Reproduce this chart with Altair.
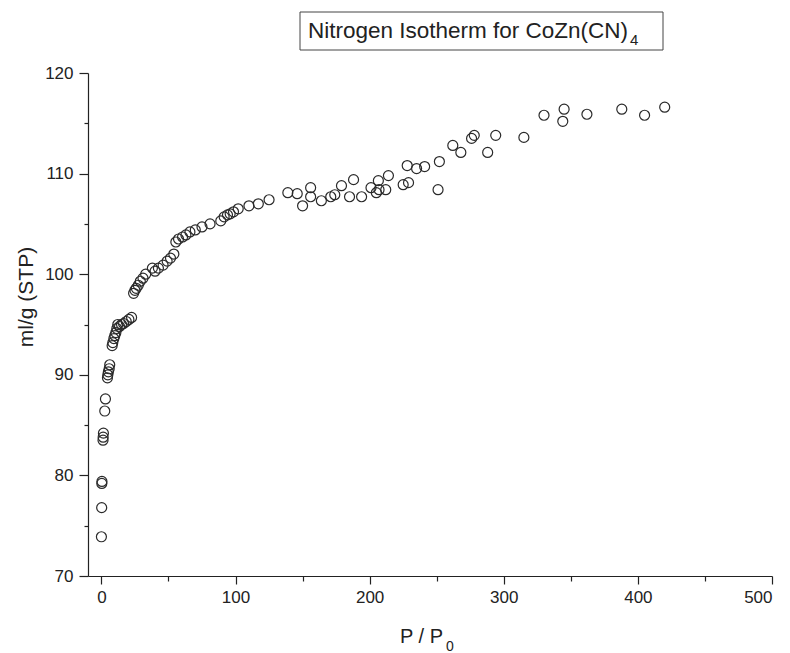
import altair as alt
import pandas as pd

# P / P0 values
pressure = [
    0.0, 0.2, 0.3, 0.4, 1.2, 1.3, 1.5, 2.5, 3.0,
    4.5, 4.8, 5.2, 5.8, 6.2,
    8.0, 8.5, 9.3, 10.0, 10.8, 11.5, 12.2, 13.5, 15.0, 16.5, 18.5, 20.5, 22.5,
    24.0, 25.0, 26.0, 27.5, 29.0, 31.0, 33.0, 38.0, 40.0, 42.5, 46.0, 49.0, 51.5, 54.0,
    55.5, 57.5, 60.5, 63.0, 66.0, 70.0, 75.0, 81.0, 89.0, 91.5, 94.0, 96.0, 98.5,
    102.0, 110.0, 117.0, 125.0,
    139.0, 146.0, 150.0, 156.0, 156.0, 164.0, 171.0, 174.0, 179.0, 185.0, 188.0,
    194.0, 201.0, 205.0, 206.5, 207.0, 212.0, 214.0, 225.0, 229.0, 228.0, 235.0,
    241.0, 251.0, 252.0, 262.0, 268.0, 276.0, 278.0, 288.0, 294.0, 315.0,
    330.0, 344.0, 345.0, 362.0, 388.0, 405.0, 420.0,
]
# adsorbed volume, ml/g (STP)
volume = [
    73.9, 76.8, 79.2, 79.4, 83.5, 83.8, 84.2, 86.4, 87.6,
    89.7, 90.0, 90.3, 90.6, 91.0,
    92.9, 93.2, 93.6, 93.9, 94.2, 94.6, 95.0, 94.8, 95.0, 95.1, 95.3, 95.5, 95.7,
    98.1, 98.4, 98.6, 98.9, 99.3, 99.6, 100.0, 100.6, 100.3, 100.6, 100.9, 101.3, 101.6, 102.0,
    103.2, 103.5, 103.7, 103.9, 104.2, 104.4, 104.7, 105.0, 105.3, 105.7, 105.9, 106.0, 106.2,
    106.5, 106.8, 107.0, 107.4,
    108.1, 108.0, 106.8, 108.6, 107.7, 107.3, 107.7, 107.9, 108.8, 107.7, 109.4,
    107.7, 108.6, 108.1, 109.3, 108.4, 108.4, 109.8, 108.9, 109.1, 110.8, 110.5,
    110.7, 108.4, 111.2, 112.8, 112.1, 113.5, 113.8, 112.1, 113.8, 113.6,
    115.8, 115.2, 116.4, 115.9, 116.4, 115.8, 116.6,
]

x_ticks = [0, 50, 100, 150, 200, 250, 300, 350, 400, 450, 500]
y_ticks = [70, 75, 80, 85, 90, 95, 100, 105, 110, 115, 120]

title_main = "Nitrogen Isotherm for CoZn(CN)"
title_sub = "4"
x_title_main = "P / P"
x_title_sub = "0"
y_title = "ml/g (STP)"

df = pd.DataFrame({"p": pressure, "v": volume})
one = pd.DataFrame({"a": [0]})

FONT = "Liberation Sans"
INK = "#222222"

points = alt.Chart(df).mark_point(
    shape="circle", filled=False, size=100, stroke="#2a2a2a", strokeWidth=1.2, opacity=1
).encode(
    x=alt.X("p:Q", scale=alt.Scale(domain=[-10, 500], nice=False, zero=False),
            axis=alt.Axis(values=x_ticks, title=None, grid=False,
                          labelExpr="datum.value % 100 === 0 ? datum.label : ''",
                          tickSize={"condition": {"test": "datum.value % 100 === 0", "value": 8}, "value": 5},
                          labelPadding=5, labelFontSize=17, labelFont=FONT, labelColor=INK,
                          domainColor=INK, tickColor=INK, domainWidth=1.2, tickWidth=1.2)),
    y=alt.Y("v:Q", scale=alt.Scale(domain=[70, 120], nice=False, zero=False),
            axis=alt.Axis(values=y_ticks, title=None, grid=False,
                          labelExpr="datum.value % 10 === 0 ? datum.label : ''",
                          tickSize={"condition": {"test": "datum.value % 10 === 0", "value": 9}, "value": 4},
                          labelPadding=6, labelFontSize=17, labelFont=FONT, labelColor=INK,
                          domainColor=INK, tickColor=INK, domainWidth=1.2, tickWidth=1.2)),
)

box = alt.Chart(one).mark_rect(fill="white", stroke="#444444", strokeWidth=1).encode(
    x=alt.value(212), x2=alt.value(575), y=alt.value(-61), y2=alt.value(-23)
)
t_main = alt.Chart(one).mark_text(
    text=title_main, font=FONT, fontSize=22.5, align="right", baseline="alphabetic", color=INK
).encode(x=alt.value(540), y=alt.value(-35))
t_sub = alt.Chart(one).mark_text(
    text=title_sub, font=FONT, fontSize=15, align="left", baseline="alphabetic", color=INK
).encode(x=alt.value(542), y=alt.value(-28))

xt_main = alt.Chart(one).mark_text(
    text=x_title_main, font=FONT, fontSize=20, align="right", baseline="alphabetic", color=INK
).encode(x=alt.value(355), y=alt.value(570))
xt_sub = alt.Chart(one).mark_text(
    text=x_title_sub, font=FONT, fontSize=14, align="left", baseline="alphabetic", color=INK
).encode(x=alt.value(358), y=alt.value(578))

yt = alt.Chart(one).mark_text(
    text=y_title, font=FONT, fontSize=21, align="center", baseline="middle", angle=270, color=INK
).encode(x=alt.value(-61), y=alt.value(224))

chart = alt.layer(points, box, t_main, t_sub, xt_main, xt_sub, yt).properties(
    width=684, height=503,
    autosize=alt.AutoSizeParams(type="none"),
    padding={"left": 88, "top": 73, "right": 18, "bottom": 77},
    background="white",
).configure_view(stroke=None)

chart.save("out.html", embed_options={"renderer": "svg", "actions": False})
